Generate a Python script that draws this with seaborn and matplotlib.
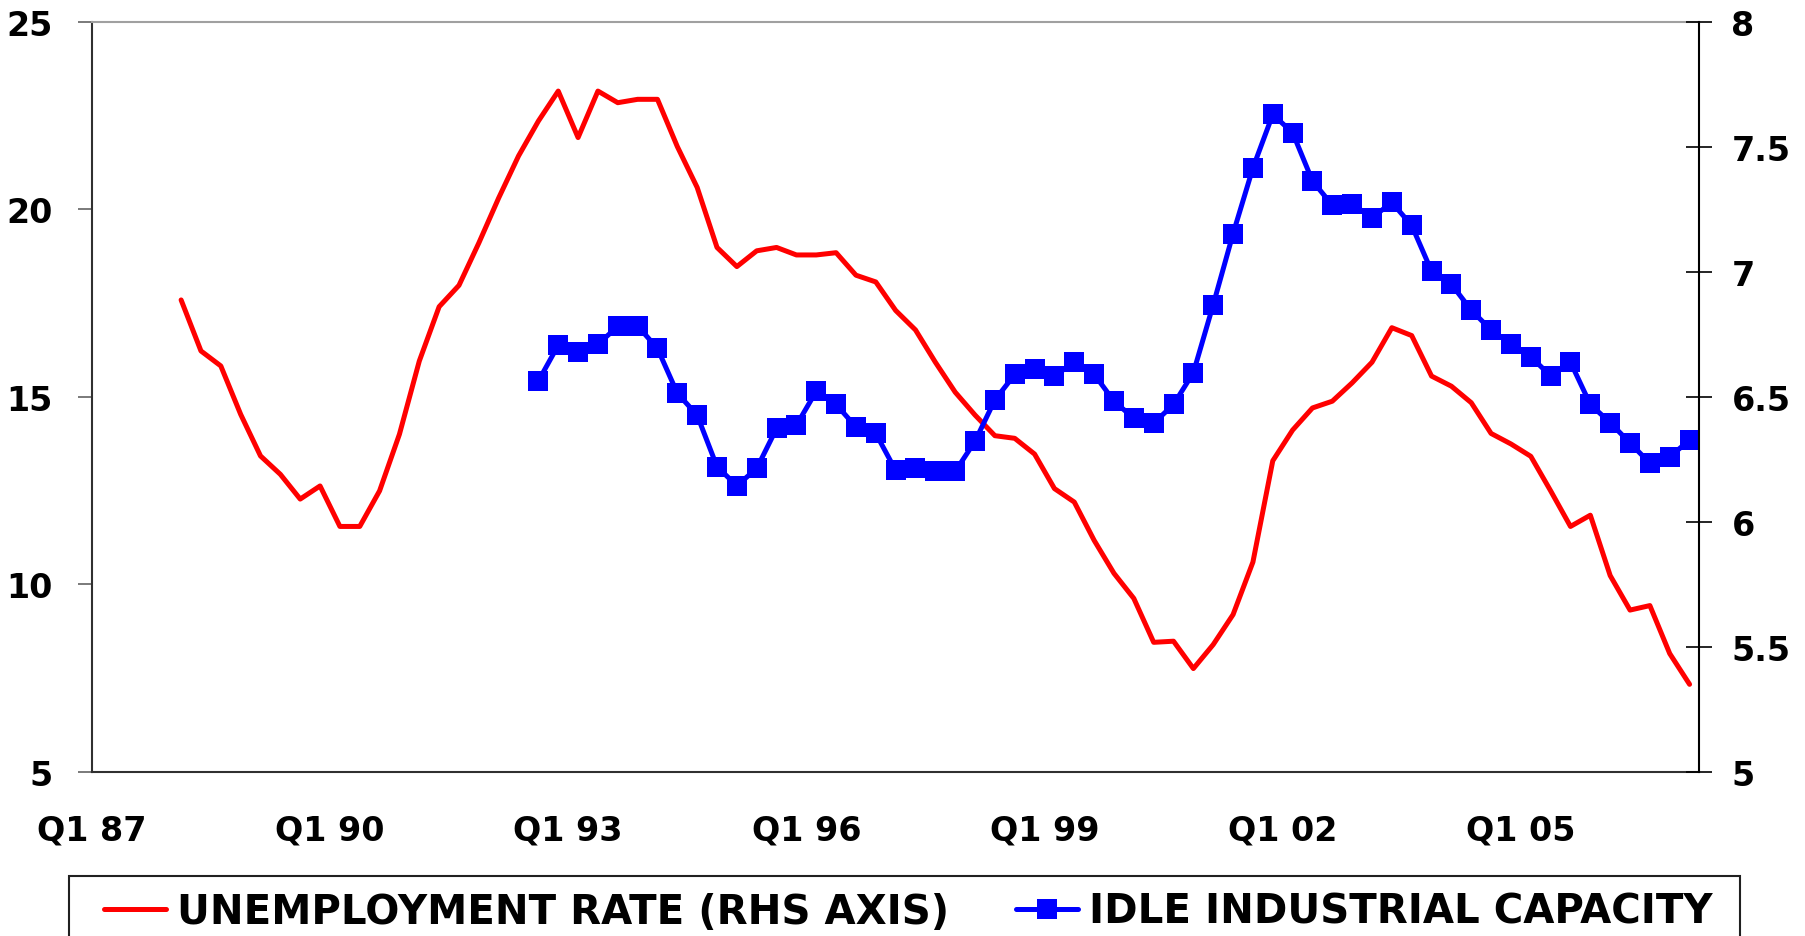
import numpy as np
import pandas as pd
import matplotlib
matplotlib.use('Agg')
import matplotlib.pyplot as plt
from matplotlib.patches import Rectangle
import seaborn as sns

# quarterly categories Q1 87 .. Q1 07
quarters = ['Q%d %02d' % (q, y % 100) for y in range(1987, 2008) for q in range(1, 5)][:81]
tick_labels = ['Q1 87', 'Q1 90', 'Q1 93', 'Q1 96', 'Q1 99', 'Q1 02', 'Q1 05']

# left axis series (red), starts Q1 88
unemployment_start = 'Q1 88'
unemployment = [17.58, 16.22, 15.82, 14.53, 13.42, 12.93, 12.27, 12.62, 11.54, 11.54,
                12.49, 14.00, 15.95, 17.40, 17.97, 19.10, 20.30, 21.42, 22.35, 23.15,
                21.91, 23.15, 22.84, 22.93, 22.93, 21.67, 20.58, 18.98, 18.47, 18.89,
                18.98, 18.78, 18.78, 18.84, 18.24, 18.06, 17.30, 16.78, 15.92, 15.12,
                14.51, 13.96, 13.89, 13.47, 12.55, 12.19, 11.17, 10.29, 9.62, 8.45,
                8.48, 7.75, 8.39, 9.19, 10.59, 13.29, 14.11, 14.70, 14.88, 15.37,
                15.92, 16.84, 16.63, 15.55, 15.28, 14.84, 14.02, 13.74, 13.41, 12.49,
                11.54, 11.84, 10.23, 9.31, 9.43, 8.15, 7.33]

# right axis series (blue), starts Q3 92
idle_start = 'Q3 92'
idle_capacity = [6.563, 6.706, 6.677, 6.710, 6.781, 6.783, 6.693, 6.514, 6.426, 6.220,
                 6.144, 6.213, 6.373, 6.386, 6.522, 6.469, 6.379, 6.353, 6.205, 6.216,
                 6.201, 6.201, 6.322, 6.487, 6.589, 6.609, 6.583, 6.638, 6.590, 6.482,
                 6.414, 6.394, 6.469, 6.596, 6.868, 7.152, 7.415, 7.629, 7.556, 7.363,
                 7.266, 7.271, 7.216, 7.277, 7.185, 7.002, 6.950, 6.846, 6.767, 6.711,
                 6.660, 6.583, 6.638, 6.469, 6.396, 6.315, 6.234, 6.260, 6.326]

label_red = 'UNEMPLOYMENT RATE (RHS AXIS)'
label_blue = 'IDLE INDUSTRIAL CAPACITY'

sns.set_style('white')
plt.rcParams['font.family'] = ['DejaVu Sans']
plt.rcParams['font.weight'] = 'bold'
plt.rcParams['text.color'] = 'black'
plt.rcParams['xtick.labelcolor'] = 'black'
plt.rcParams['ytick.labelcolor'] = 'black'

# category centre positions ("between tick marks" style)
pos = {q: i + 0.5 for i, q in enumerate(quarters)}

s0 = quarters.index(unemployment_start)
df_u = pd.DataFrame({'quarter': quarters[s0:s0 + len(unemployment)], 'value': unemployment})
df_u['x'] = df_u['quarter'].map(pos)

s1 = quarters.index(idle_start)
df_i = pd.DataFrame({'quarter': quarters[s1:s1 + len(idle_capacity)], 'value': idle_capacity})
df_i['x'] = df_i['quarter'].map(pos)

W, H = 1806, 937
fig = plt.figure(figsize=(W / 100, H / 100), dpi=100)
ax = fig.add_axes([91.8 / W, 1 - 772.7 / H, (1699.5 - 91.8) / W, (772.7 - 22.7) / H])
ax2 = ax.twinx()

sns.lineplot(data=df_u, x='x', y='value', ax=ax, color='#FF0000', linewidth=3.6,
             label=label_red, legend=False)
sns.lineplot(data=df_i, x='x', y='value', ax=ax2, color='#0000FF', linewidth=3.6,
             marker='s', markersize=14.5, markeredgewidth=0, label=label_blue, legend=False)

ax.set_xlim(0, len(quarters))
ax.set_ylim(5, 25)
ax.set_yticks([5, 10, 15, 20, 25])
ax2.set_ylim(5, 8)
ax2.set_yticks([5, 5.5, 6, 6.5, 7, 7.5, 8])
ax2.set_yticklabels(['5', '5.5', '6', '6.5', '7', '7.5', '8'])
ax.set_xticks([quarters.index(t) for t in tick_labels])
ax.set_xticklabels(tick_labels)
for a in (ax, ax2):
    a.set_xlabel('')
    a.set_ylabel('')

ax.tick_params(axis='y', direction='out', length=10, width=1.3, color='#707070', pad=18,
               labelsize=24, labelcolor='black')
ax.tick_params(axis='x', direction='out', length=9, width=1.2, color='#505050', pad=21,
               labelsize=24, labelcolor='black')
ax2.tick_params(axis='y', direction='inout', length=19, width=1.2, color='black', pad=13.5,
                labelsize=24, labelcolor='black')

for sp in ('left', 'top', 'bottom'):
    ax2.spines[sp].set_visible(False)
ax.spines['right'].set_visible(False)
ax.spines['top'].set_color('#a0a0a0')
ax.spines['top'].set_linewidth(1.5)
ax.spines['left'].set_color('#303030')
ax.spines['left'].set_linewidth(1.5)
ax.spines['bottom'].set_color('#303030')
ax.spines['bottom'].set_linewidth(1.5)
ax2.spines['right'].set_color('black')
ax2.spines['right'].set_linewidth(1.5)

# legend frame (runs off the bottom edge)
fig.patches.append(Rectangle((69 / W, -0.1), (1740 - 69) / W, (1 - 877 / H) + 0.1,
                             transform=fig.transFigure, fill=False,
                             edgecolor='#202020', linewidth=1.5))

handles = [ax.get_lines()[0], ax2.get_lines()[0]]
leg = fig.legend(handles=handles, labels=[label_red, label_blue], loc='upper left',
                 bbox_to_anchor=(104 / W, 1 - 893 / H), ncol=2, frameon=False,
                 borderpad=0, borderaxespad=0, handlelength=1.54, handletextpad=0.28,
                 columnspacing=1.65, prop={'size': 29, 'weight': 'bold'})
for t in leg.get_texts():
    t.set_color('black')

fig.savefig('out.png', dpi=100)
